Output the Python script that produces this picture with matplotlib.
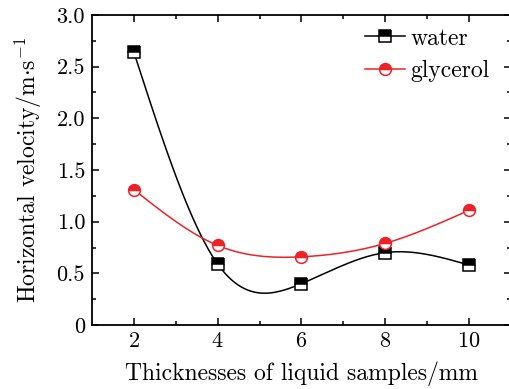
import matplotlib
matplotlib.use('Agg')
import matplotlib.pyplot as plt
import numpy as np

plt.rcParams.update({'font.size': 16})
plt.rcParams['font.family'] = 'serif'
plt.rcParams['font.serif'] = ['cmr10']
plt.rcParams['mathtext.fontset'] = 'cm'
plt.rcParams['axes.formatter.use_mathtext'] = True

thickness = [2, 4, 6, 8, 10]
water = [2.64, 0.59, 0.40, 0.70, 0.58]
glycerol = [1.31, 0.77, 0.66, 0.79, 1.11]


def natural_spline(x, y, n=300):
    x = np.asarray(x, float)
    y = np.asarray(y, float)
    k = len(x)
    h = np.diff(x)
    A = np.zeros((k, k))
    b = np.zeros(k)
    A[0, 0] = A[-1, -1] = 1
    for i in range(1, k - 1):
        A[i, i - 1] = h[i - 1]
        A[i, i] = 2 * (h[i - 1] + h[i])
        A[i, i + 1] = h[i]
        b[i] = 3 * ((y[i + 1] - y[i]) / h[i] - (y[i] - y[i - 1]) / h[i - 1])
    c = np.linalg.solve(A, b)
    xs = np.linspace(x[0], x[-1], n)
    ys = np.empty_like(xs)
    for j, t in enumerate(xs):
        i = min(np.searchsorted(x, t, side='right') - 1, k - 2)
        d = t - x[i]
        bi = (y[i + 1] - y[i]) / h[i] - h[i] * (2 * c[i] + c[i + 1]) / 3
        di = (c[i + 1] - c[i]) / (3 * h[i])
        ys[j] = y[i] + bi * d + c[i] * d ** 2 + di * d ** 3
    return xs, ys


fig = plt.figure(figsize=(5.09, 3.89), dpi=100)
ax = fig.add_axes([0.1807, 0.1645, 0.823, 0.797])

for vals, col, mk, lab in [(water, 'black', 's', 'water'),
                           (glycerol, '#ec2227', 'o', 'glycerol')]:
    xs, ys = natural_spline(thickness, vals)
    ax.plot(xs, ys, color=col, lw=1.1)
    ax.plot(thickness, vals, ls='none', marker=mk, ms=8.5, mec=col, mew=1.1,
            mfc=col, fillstyle='top', markerfacecoloralt='white')
    ax.plot([], [], color=col, lw=1.1, marker=mk, ms=8.5, mec=col, mew=1.1,
            mfc=col, fillstyle='top', markerfacecoloralt='white', label=lab)

ax.set_xlim(1, 11)
ax.set_ylim(0, 3.0)
ax.set_xticks(thickness)
ax.set_xticks([3, 5, 7, 9], minor=True)
ax.set_yticks([0, 0.5, 1.0, 1.5, 2.0, 2.5, 3.0])
ax.set_yticklabels(['0', '0.5', '1.0', '1.5', '2.0', '2.5', '3.0'])
ax.set_yticks(np.arange(0.25, 3.0, 0.5), minor=True)
ax.tick_params(which='both', direction='in', top=True, right=True, width=1.1,
               labelsize=16)
ax.tick_params(which='major', length=5, pad=5)
ax.tick_params(which='minor', length=3)
for s in ax.spines.values():
    s.set_linewidth(1.3)

ax.set_xlabel('Thicknesses of liquid samples/mm', fontsize=17, labelpad=7)
ax.set_ylabel(r'Horizontal velocity/m$\cdot$s$^{-1}$', fontsize=17, labelpad=9)
ax.legend(loc='upper left', bbox_to_anchor=(0.6, 1.028), frameon=False,
          fontsize=17, handlelength=1.7, handletextpad=0.25, labelspacing=0.45)

fig.savefig('out.png', dpi=100)
